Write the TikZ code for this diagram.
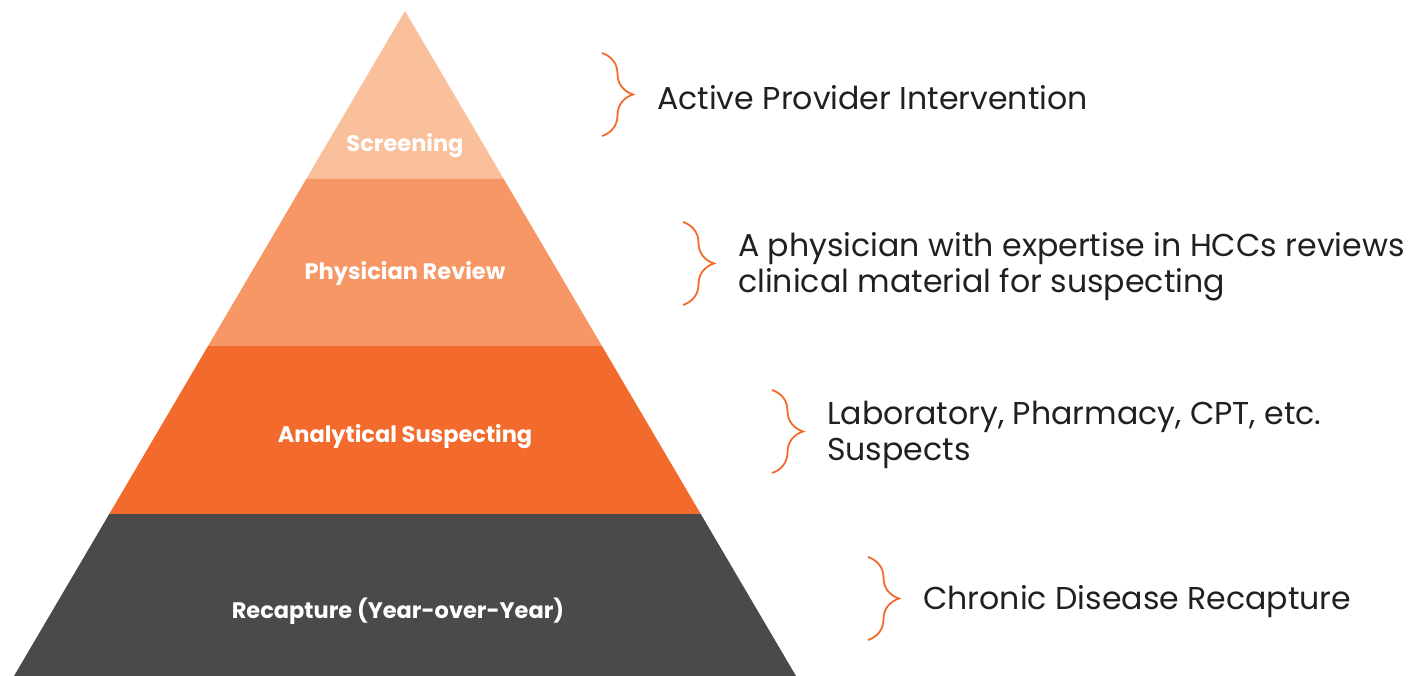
\documentclass[tikz,border=0pt]{standalone}
\usepackage{fontspec}
\setmainfont{Poppins}
\usetikzlibrary{calc,positioning,decorations.pathreplacing}

\definecolor{tierTop}{HTML}{FAC09C}
\definecolor{tierTwo}{HTML}{F79765}
\definecolor{tierThree}{HTML}{F26A2C}
\definecolor{tierBase}{HTML}{4A4A4A}
\definecolor{accent}{HTML}{F26A2C}
\definecolor{ink}{HTML}{231F20}

\newcommand{\PicW}{1424}
\newcommand{\PicH}{676}
\newcommand{\Amp}{31}
\newcommand{\Gap}{24pt}
\newcommand{\drawCurly}[3]{
    \coordinate (#1s) at (#2,#3);
    \coordinate (#1e) at (#2,#3+83);
    \draw[curly] (#1s) -- (#1e);
    \coordinate (#1) at ($(#1s)!0.5!(#1e)+(\Amp,0)$);
}

\begin{document}
\begin{tikzpicture}[x=1pt,y=-1pt,
    tier/.style={font=\bfseries\fontsize{22.5}{26}\selectfont, text=white, inner sep=0},
    note/.style={font=\fontsize{31.6}{36}\selectfont, text=ink, align=left, inner sep=0, anchor=west, yshift=-3pt},
    curly/.style={draw=accent, line width=1.8pt, decorate, decoration={brace,amplitude=\Amp pt}}]
    \useasboundingbox (0,0) rectangle (\PicW,\PicH);

    \coordinate (Apex) at (405,11);
    \coordinate (BL) at (14,676);
    \coordinate (BR) at (796,676);
    \foreach \n/\f in {1/0.2526,2/0.5038,3/0.7564}{
        \coordinate (L\n) at ($(Apex)!\f!(BL)$);
        \coordinate (R\n) at ($(Apex)!\f!(BR)$);
    }

    % pyramid tiers
    \fill[tierTop]   (Apex) -- (R1) -- (L1) -- cycle;
    \fill[tierTwo]   (L1) -- (R1) -- (R2) -- (L2) -- cycle;
    \fill[tierThree] (L2) -- (R2) -- (R3) -- (L3) -- cycle;
    \fill[tierBase]  (L3) -- (R3) -- (BR) -- (BL) -- cycle;

    \node[tier] (screen) at (405,146) {Screening};
    \node[tier] (review) at (405,273) {Physician Review};
    \node[tier] (analyt) at (405,437) {Analytical Suspecting};
    \node[tier] (recap)  at (398,611) {Recapture (Year-over-Year)};

    % braces and notes
    \drawCurly{tipA}{602}{53}
    \drawCurly{tipB}{683}{222}
    \drawCurly{tipC}{772}{390}
    \drawCurly{tipD}{868}{557}

    \node[note, right=\Gap of tipA] (active) {Active Provider Intervention};
    \node[note, right=\Gap of tipB] (expert) {A physician with expertise in HCCs reviews\\clinical material for suspecting};
    \node[note, right=\Gap of tipC] (labs)   {Laboratory, Pharmacy, CPT, etc.\\Suspects};
    \node[note, right=\Gap of tipD] (chron)  {Chronic Disease Recapture};
\end{tikzpicture}
\end{document}
